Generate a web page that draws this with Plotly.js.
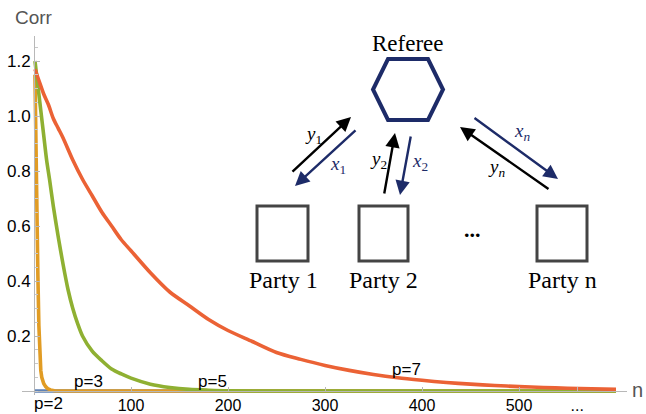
<!DOCTYPE html>
<html>
<head>
<meta charset="utf-8">
<script src="https://cdn.plot.ly/plotly-3.0.1.min.js"></script>
<style>html,body{margin:0;padding:0;background:#fff;}#chart{width:646px;height:414px;}</style>
</head>
<body>
<div id="chart"></div>
<script>
// ---- data ----
const seriesNames = ["p=2", "p=3", "p=5", "p=7"];
const nP2 = [1, 600];
const corrP2 = [0, 0];
const nP3 = [1, 2, 3, 4, 5, 6, 7, 8, 9, 10, 12, 14, 17, 21, 30, 100, 200, 300, 400, 500, 600];
const corrP3 = [1.15, 0.85, 0.6, 0.42, 0.24, 0.13, 0.075, 0.05, 0.035, 0.027, 0.016, 0.009, 0.004, 0.001, 0, 0, 0, 0, 0, 0, 0];
const nP5 = [1, 3, 5, 7, 10, 13, 16, 20, 25, 30, 35, 40, 45, 50, 60, 70, 80, 90, 100, 120, 140, 160, 180, 200, 250, 300, 400, 500, 600];
const corrP5 = [1.2, 1.14, 1.08, 1.02, 0.93, 0.84, 0.77, 0.67, 0.56, 0.46, 0.37, 0.30, 0.245, 0.20, 0.145, 0.11, 0.08, 0.062, 0.047, 0.025, 0.013, 0.006, 0.003, 0.001, 0, 0, 0, 0, 0];
const nP7 = [1, 5, 10, 15, 20, 25, 30, 40, 50, 60, 70, 80, 90, 100, 120, 140, 160, 180, 200, 225, 250, 275, 300, 325, 350, 375, 400, 425, 450, 475, 500, 525, 550, 575, 600];
const corrP7 = [1.17, 1.13, 1.08, 1.04, 0.99, 0.955, 0.92, 0.84, 0.77, 0.71, 0.65, 0.60, 0.55, 0.51, 0.43, 0.36, 0.31, 0.26, 0.22, 0.18, 0.14, 0.115, 0.093, 0.075, 0.06, 0.048, 0.039, 0.031, 0.025, 0.02, 0.016, 0.013, 0.01, 0.008, 0.006];
const xTickVals = [100, 200, 300, 400, 500, 560];
const xTickText = ["100", "200", "300", "400", "500", "..."];
const yTickVals = [0.2, 0.4, 0.6, 0.8, 1.0, 1.2];
const yTickText = ["0.2", "0.4", "0.6", "0.8", "1.0", "1.2"];
const curveLabels = [{t: "p=2", x: 48, y: 403}, {t: "p=3", x: 88, y: 381}, {t: "p=5", x: 213, y: 381}, {t: "p=7", x: 407, y: 369}];

// ---- page geometry helpers (pixel -> paper) ----
const W = 646, H = 414;
const px = x => x / W;
const py = y => 1 - y / H;

const colors = ["#5E81B5", "#E19C24", "#8FB032", "#EB6235"];
const shapesOf = ["linear", "linear", "spline", "spline"];
const xs = [nP2, nP3, nP5, nP7];
const ys = [corrP2, corrP3, corrP5, corrP7];
const traces = xs.map((x, i) => ({
  type: "scatter", mode: "lines", x: x, y: ys[i], name: seriesNames[i],
  line: {color: colors[i], width: 3.6, shape: shapesOf[i], smoothing: 0.8}, hoverinfo: "skip"
}));

const navy = "#1D2B68";
const annotations = [];
const shapes = [];

// axis titles
annotations.push({xref: "paper", yref: "paper", x: px(13), y: py(18), xanchor: "left", yanchor: "middle", text: "Corr", showarrow: false, font: {family: "Liberation Sans", size: 19, color: "#555"}});
annotations.push({xref: "paper", yref: "paper", x: px(637), y: py(390), xanchor: "center", yanchor: "middle", text: "n", showarrow: false, font: {family: "Liberation Sans", size: 20, color: "#555"}});
curveLabels.forEach(c => annotations.push({xref: "paper", yref: "paper", x: px(c.x), y: py(c.y), xanchor: "center", yanchor: "middle", text: c.t, showarrow: false, font: {family: "Liberation Sans", size: 17, color: "#000"}}));

// diagram: hexagon
const hex = [[388, 59], [428, 59], [443, 89.5], [428, 120], [388, 120], [373, 89.5]];
shapes.push({type: "path", xref: "paper", yref: "paper", path: "M " + hex.map(p => px(p[0]) + "," + py(p[1])).join(" L ") + " Z", line: {color: navy, width: 4}, fillcolor: "rgba(0,0,0,0)"});
// squares
[[257, 308], [359, 408], [537, 587]].forEach(s => shapes.push({type: "rect", xref: "paper", yref: "paper", x0: px(s[0]), x1: px(s[1]), y0: py(206), y1: py(261), line: {color: "#444", width: 3}}));
// arrows [tailx, taily, headx, heady, color]
const arrows = [[291, 173, 351, 117, "#000"], [357, 129, 295, 186, navy], [384, 195, 395, 133, "#000"], [411, 135, 400, 195, navy], [473, 117, 558, 179, navy], [550, 190, 460, 127, "#000"]];
arrows.forEach(a => annotations.push({xref: "paper", yref: "paper", x: px(a[2]), y: py(a[3]), ax: a[0] - a[2], ay: a[1] - a[3], text: "", showarrow: true, arrowhead: 2, arrowsize: 1.2, arrowwidth: 2.4, arrowcolor: a[4], standoff: 0, startstandoff: 0}));
// diagram texts
const serif = "Liberation Serif";
const dtexts = [
  {t: "Referee", x: 408, y: 43, s: 23, c: "#000"},
  {t: "Party 1", x: 283, y: 280, s: 24, c: "#000"},
  {t: "Party 2", x: 383, y: 280, s: 24, c: "#000"},
  {t: "Party n", x: 562, y: 280, s: 24, c: "#000"},
  {t: "<b>...</b>", x: 472, y: 229, s: 22, c: "#000"},
  {t: "<i>y</i><sub>1</sub>", x: 313, y: 135, s: 19, c: "#000"},
  {t: "<i>x</i><sub>1</sub>", x: 338, y: 165, s: 19, c: navy},
  {t: "<i>y</i><sub>2</sub>", x: 378, y: 160, s: 19, c: "#000"},
  {t: "<i>x</i><sub>2</sub>", x: 420, y: 162, s: 19, c: navy},
  {t: "<i>x</i><sub><i>n</i></sub>", x: 522, y: 132, s: 19, c: navy},
  {t: "<i>y</i><sub><i>n</i></sub>", x: 496, y: 168, s: 19, c: "#000"}
];
dtexts.forEach(d => annotations.push({xref: "paper", yref: "paper", x: px(d.x), y: py(d.y), xanchor: "center", yanchor: "middle", text: d.t, showarrow: false, font: {family: serif, size: d.s, color: d.c}}));

const pxPerN = 0.97, x0px = 34, pxPerV = 275, y0px = 391;
const layout = {
  width: W, height: H,
  margin: {l: 0, r: 0, t: 0, b: 0, pad: 0},
  paper_bgcolor: "#fff", plot_bgcolor: "rgba(0,0,0,0)",
  showlegend: false,
  xaxis: {
    domain: [px(22), px(627)],
    range: [(22 - x0px) / pxPerN, (627 - x0px) / pxPerN],
    anchor: "free", position: py(y0px),
    showline: true, linecolor: "#b8b8b8", linewidth: 1,
    showgrid: false, zeroline: false,
    ticks: "inside", ticklen: 4, tickcolor: "#b8b8b8",
    tickvals: xTickVals, ticktext: xTickText,
    tickfont: {family: "Liberation Sans", size: 16, color: "#000"},
    fixedrange: true
  },
  yaxis: {
    domain: [py(395), py(36)],
    range: [(y0px - 395) / pxPerV, (y0px - 36) / pxPerV],
    anchor: "free", position: px(x0px),
    showline: true, linecolor: "#b8b8b8", linewidth: 1,
    showgrid: false, zeroline: false,
    ticks: "inside", ticklen: 5, tickcolor: "#b8b8b8",
    tickvals: yTickVals, ticktext: yTickText,
    minor: {dtick: 0.05, tick0: 0, ticks: "inside", ticklen: 3, tickcolor: "#c8c8c8", showgrid: false},
    tickfont: {family: "Liberation Sans", size: 17, color: "#000"},
    fixedrange: true
  },
  annotations: annotations,
  shapes: shapes
};
Plotly.newPlot("chart", traces, layout, {staticPlot: true, displayModeBar: false});
</script>
</body>
</html>
